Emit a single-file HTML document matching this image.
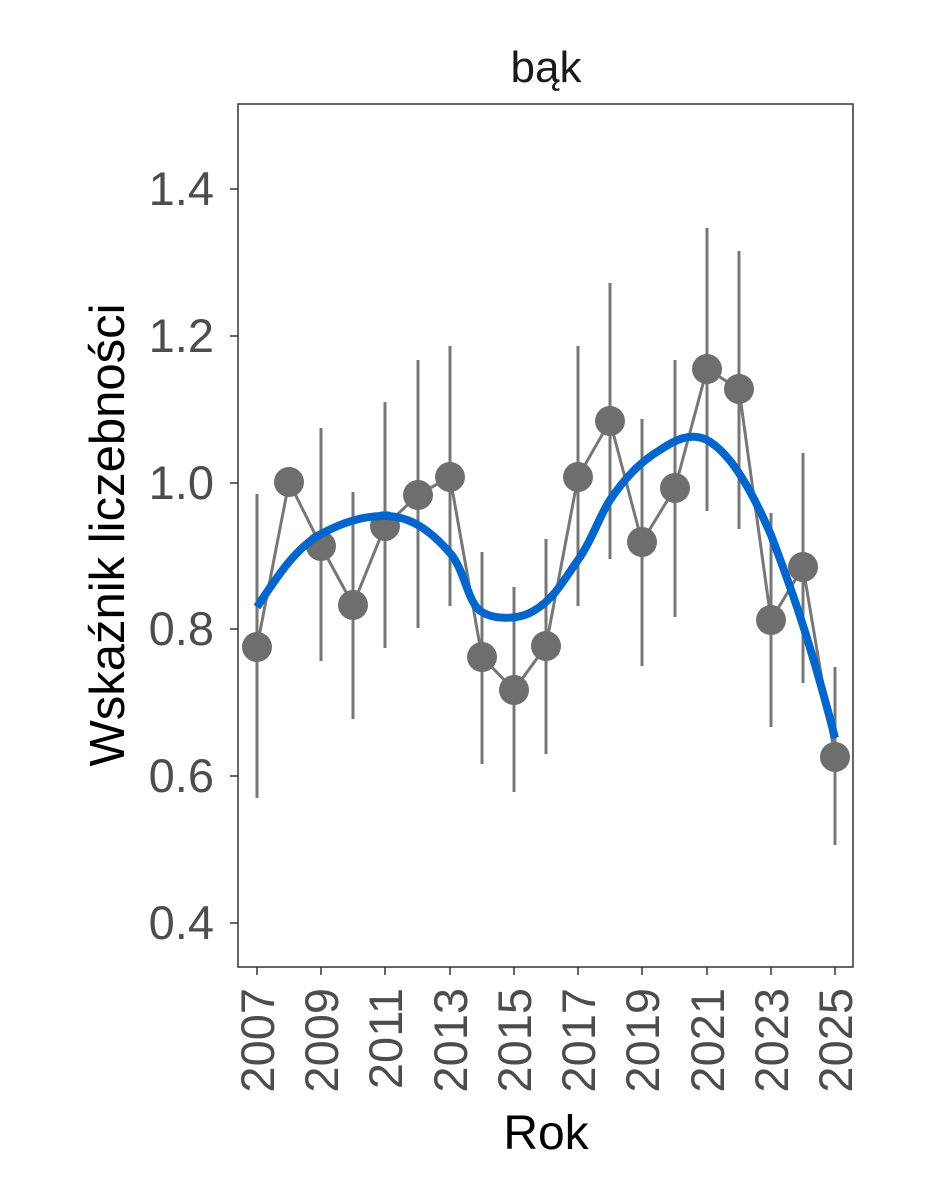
<!DOCTYPE html>
<html><head><meta charset="utf-8"><style>body{margin:0;background:#fff}</style></head><body>
<svg width="944" height="1181" xmlns="http://www.w3.org/2000/svg" font-family="Liberation Sans, Arial, sans-serif">
<rect width="944" height="1181" fill="#fff"/>
<rect x="238" y="104" width="615" height="863" fill="none" stroke="#333" stroke-width="1.5"/>
<g stroke="#333" stroke-width="1.5">
<line x1="230" y1="189" x2="238" y2="189"/><line x1="230" y1="336" x2="238" y2="336"/><line x1="230" y1="483" x2="238" y2="483"/><line x1="230" y1="629" x2="238" y2="629"/><line x1="230" y1="776" x2="238" y2="776"/><line x1="230" y1="923" x2="238" y2="923"/>
</g>
<g font-size="47" fill="#4d4d4d" text-anchor="end">
<text x="214" y="205">1.4</text><text x="214" y="352">1.2</text><text x="214" y="499">1.0</text><text x="214" y="645">0.8</text><text x="214" y="792">0.6</text><text x="214" y="939">0.4</text>
</g>
<g stroke="#333" stroke-width="1.5">
<line x1="257" y1="967" x2="257" y2="975"/><line x1="321" y1="967" x2="321" y2="975"/><line x1="385" y1="967" x2="385" y2="975"/><line x1="450" y1="967" x2="450" y2="975"/><line x1="514" y1="967" x2="514" y2="975"/><line x1="578" y1="967" x2="578" y2="975"/><line x1="642" y1="967" x2="642" y2="975"/><line x1="707" y1="967" x2="707" y2="975"/><line x1="771" y1="967" x2="771" y2="975"/><line x1="835" y1="967" x2="835" y2="975"/>
</g>
<g font-size="47" fill="#4d4d4d" text-anchor="end">
<text transform="translate(274,988) rotate(-90)">2007</text>
<text transform="translate(338,988) rotate(-90)">2009</text>
<text transform="translate(402,988) rotate(-90)">2011</text>
<text transform="translate(467,988) rotate(-90)">2013</text>
<text transform="translate(531,988) rotate(-90)">2015</text>
<text transform="translate(595,988) rotate(-90)">2017</text>
<text transform="translate(659,988) rotate(-90)">2019</text>
<text transform="translate(724,988) rotate(-90)">2021</text>
<text transform="translate(788,988) rotate(-90)">2023</text>
<text transform="translate(852,988) rotate(-90)">2025</text>
</g>
<text x="546" y="82" font-size="44" text-anchor="middle" fill="#1a1a1a">bąk</text>
<text x="546" y="1149" font-size="48" text-anchor="middle" fill="#000">Rok</text>
<text transform="translate(124,535) rotate(-90)" font-size="49" text-anchor="middle" fill="#000">Wskaźnik liczebności</text>
<g stroke="#777" stroke-width="3">
<line x1="257" y1="494" x2="257" y2="798"/>
<line x1="321" y1="428" x2="321" y2="661"/>
<line x1="353" y1="492" x2="353" y2="719"/>
<line x1="385" y1="402" x2="385" y2="648"/>
<line x1="418" y1="360" x2="418" y2="628"/>
<line x1="450" y1="346" x2="450" y2="606"/>
<line x1="482" y1="552" x2="482" y2="764"/>
<line x1="514" y1="587" x2="514" y2="792"/>
<line x1="546" y1="539" x2="546" y2="754"/>
<line x1="578" y1="346" x2="578" y2="606"/>
<line x1="610" y1="283" x2="610" y2="559"/>
<line x1="642" y1="419" x2="642" y2="666"/>
<line x1="675" y1="360" x2="675" y2="617"/>
<line x1="707" y1="228" x2="707" y2="511"/>
<line x1="739" y1="251" x2="739" y2="529"/>
<line x1="771" y1="513" x2="771" y2="727"/>
<line x1="803" y1="453" x2="803" y2="683"/>
<line x1="835" y1="667" x2="835" y2="845"/>
</g>
<polyline fill="none" stroke="#777" stroke-width="3" points="257,647 289,482 321,546 353,605 385,526 418,495 450,477 482,657 514,690 546,646 578,477 610,421 642,542 675,488 707,369 739,389 771,620 803,567 835,757"/>
<g fill="#6e6e6e">
<circle cx="257" cy="647" r="15"/><circle cx="289" cy="482" r="15"/><circle cx="321" cy="546" r="15"/><circle cx="353" cy="605" r="15"/><circle cx="385" cy="526" r="15"/><circle cx="418" cy="495" r="15"/><circle cx="450" cy="477" r="15"/><circle cx="482" cy="657" r="15"/><circle cx="514" cy="690" r="15"/><circle cx="546" cy="646" r="15"/><circle cx="578" cy="477" r="15"/><circle cx="610" cy="421" r="15"/><circle cx="642" cy="542" r="15"/><circle cx="675" cy="488" r="15"/><circle cx="707" cy="369" r="15"/><circle cx="739" cy="389" r="15"/><circle cx="771" cy="620" r="15"/><circle cx="803" cy="567" r="15"/><circle cx="835" cy="757" r="15"/>
</g>
<path fill="none" stroke="#0066cc" stroke-width="8" stroke-linejoin="round" d="M257,607 C275,580 295,548 321,534 C345,521 365,516 385,516 C410,516 430,530 450,553 C465,570 468,605 482,612 C495,620 520,620 535,610 C555,598 565,578 578,560 C592,540 600,515 610,500 C625,478 640,462 660,450 C675,440 690,432 707,440 C725,450 745,475 771,535 C790,585 810,640 835,738"/>
</svg>
</body></html>
